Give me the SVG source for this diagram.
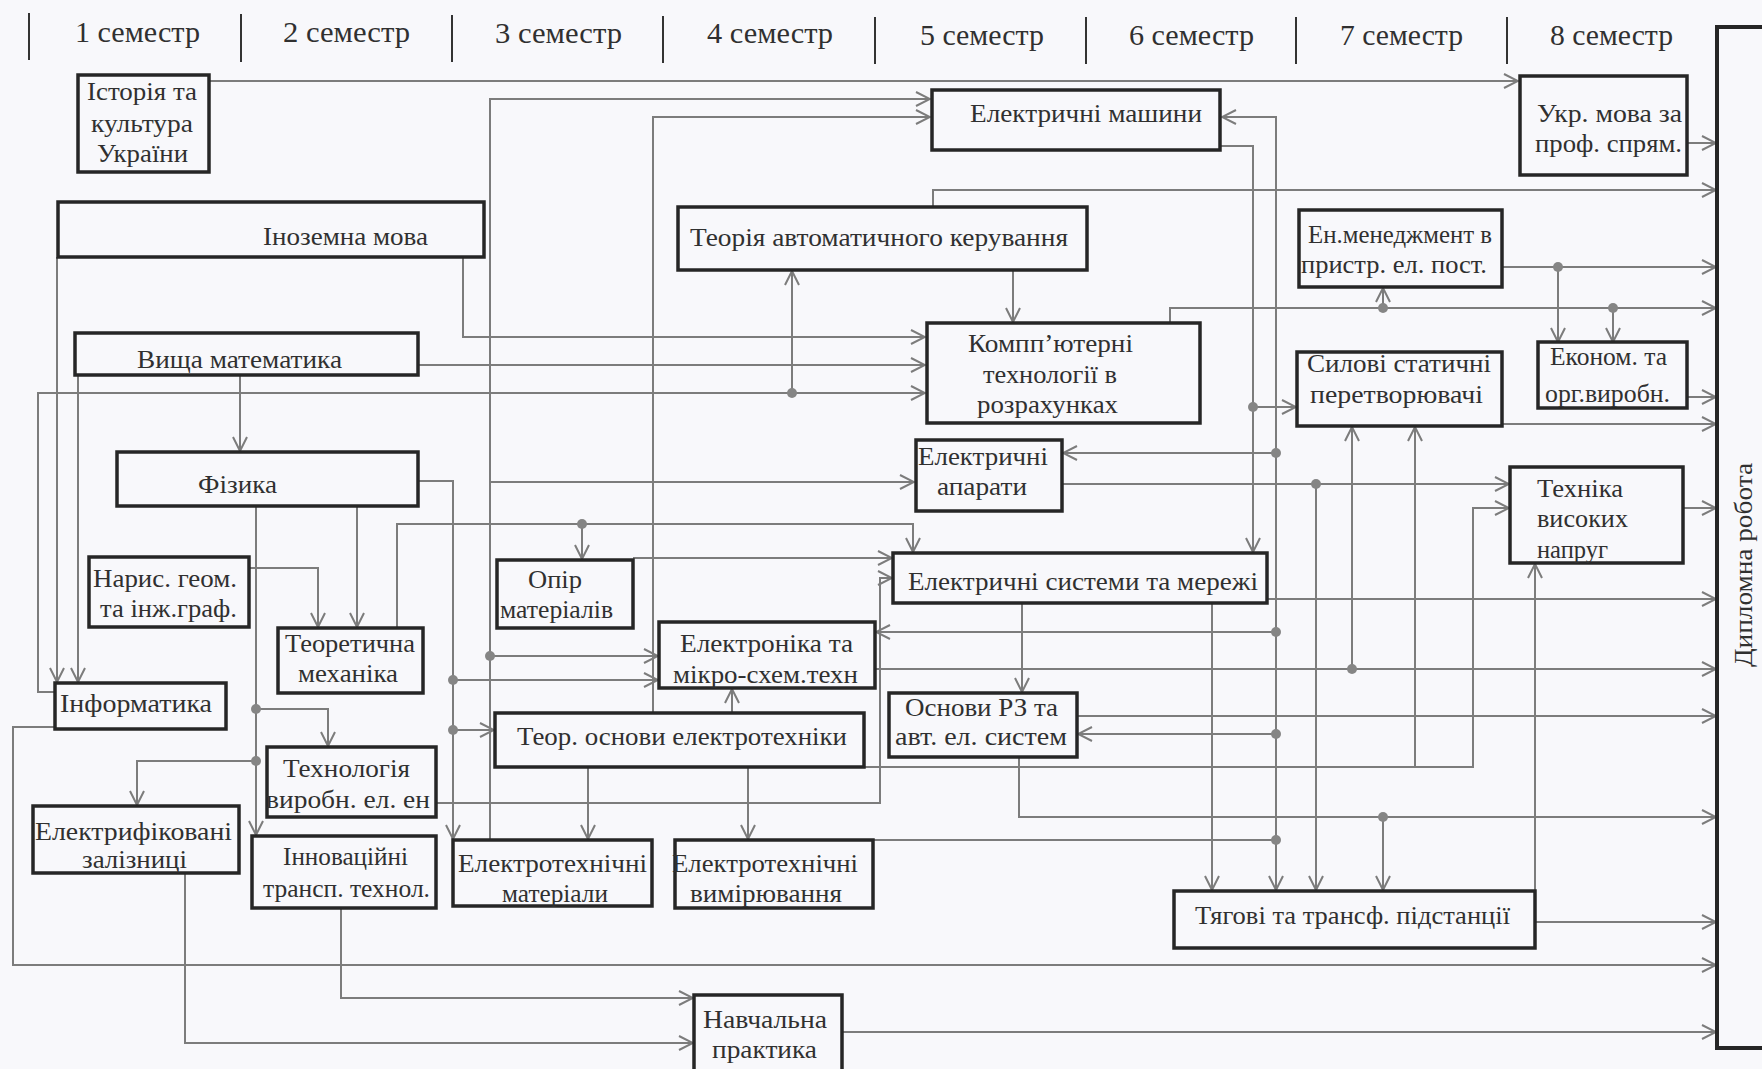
<svg xmlns="http://www.w3.org/2000/svg" width="1762" height="1069" viewBox="0 0 1762 1069" font-family="'Liberation Serif', 'Times New Roman', 'DejaVu Serif', serif">
<defs>
<marker id="a" viewBox="0 0 16 16" refX="15" refY="8" markerWidth="16" markerHeight="16" markerUnits="userSpaceOnUse" orient="auto">
<path d="M1,1 L15,8 L1,15" fill="none" stroke="#7c7c7c" stroke-width="2"/>
</marker>
<style>
.c{fill:none;stroke:#7c7c7c;stroke-width:2}
.ca{fill:none;stroke:#7c7c7c;stroke-width:2;marker-end:url(#a)}
.d{fill:#858585}
.b{fill:#f8f8fb;stroke:#262626;stroke-width:3.5}
.t{font-size:26px;fill:#303030}
.s{font-size:29px;fill:#303030}
.v{stroke:#333;stroke-width:2}
</style>
</defs>
<rect width="1762" height="1069" fill="#f8f8fb"/>
<g id="header" font-family="'Liberation Serif', 'Times New Roman', serif">
<line class="v" x1="29" y1="13" x2="29" y2="60"/>
<line class="v" x1="241" y1="14" x2="241" y2="62"/>
<line class="v" x1="452" y1="15" x2="452" y2="62"/>
<line class="v" x1="663" y1="16" x2="663" y2="63"/>
<line class="v" x1="875" y1="17" x2="875" y2="64"/>
<line class="v" x1="1086" y1="17" x2="1086" y2="64"/>
<line class="v" x1="1296" y1="17" x2="1296" y2="64"/>
<line class="v" x1="1507" y1="17" x2="1507" y2="64"/>
<text class="s" x="75" y="42" textLength="125" lengthAdjust="spacingAndGlyphs">1 семестр</text>
<text class="s" x="283" y="42" textLength="127" lengthAdjust="spacingAndGlyphs">2 семестр</text>
<text class="s" x="495" y="43" textLength="127" lengthAdjust="spacingAndGlyphs">3 семестр</text>
<text class="s" x="707" y="43" textLength="126" lengthAdjust="spacingAndGlyphs">4 семестр</text>
<text class="s" x="920" y="45" textLength="124" lengthAdjust="spacingAndGlyphs">5 семестр</text>
<text class="s" x="1129" y="45" textLength="125" lengthAdjust="spacingAndGlyphs">6 семестр</text>
<text class="s" x="1340" y="45" textLength="123" lengthAdjust="spacingAndGlyphs">7 семестр</text>
<text class="s" x="1550" y="45" textLength="123" lengthAdjust="spacingAndGlyphs">8 семестр</text>
</g>
<g id="connectors">
<path class="ca" d="M209,81 H1518"/>
<path class="ca" d="M1687,143 H1716"/>
<path class="ca" d="M933,207 V190 H1716"/>
<path class="ca" d="M1502,267 H1716"/>
<path class="ca" d="M1558,267 V342"/>
<path class="ca" d="M1170,323 V308 H1716"/>
<path class="ca" d="M1383,308 V288"/>
<path class="ca" d="M1613,308 V342"/>
<path class="ca" d="M1687,397 H1716"/>
<path class="ca" d="M1502,424 H1716"/>
<path class="ca" d="M1683,508 H1716"/>
<path class="ca" d="M1267,599 H1716"/>
<path class="ca" d="M875,669 H1716"/>
<path class="ca" d="M1352,669 V427"/>
<path class="ca" d="M1077,716 H1716"/>
<path class="ca" d="M1019,757 V817 H1716"/>
<path class="ca" d="M1383,817 V890"/>
<path class="ca" d="M1535,922 H1716"/>
<path class="ca" d="M55,727 H13 V965 H1716"/>
<path class="ca" d="M842,1032 H1716"/>
<path class="ca" d="M490,840 V99 H930"/>
<path class="ca" d="M490,656 H658"/>
<path class="ca" d="M490,482 H914"/>
<path class="ca" d="M653,713 V117 H930"/>
<path class="ca" d="M463,257 V337 H925"/>
<path class="ca" d="M57,257 V682"/>
<path class="ca" d="M78,375 V682"/>
<path class="ca" d="M240,375 V451"/>
<path class="ca" d="M418,365 H925"/>
<path class="ca" d="M55,692 H38 V393 H925"/>
<path class="ca" d="M792,393 V271"/>
<path class="ca" d="M1013,270 V322"/>
<path class="ca" d="M418,481 H453 V839"/>
<path class="ca" d="M453,680 H658"/>
<path class="ca" d="M453,730 H494"/>
<path class="ca" d="M256,506 V835"/>
<path class="ca" d="M256,709 H328 V746"/>
<path class="ca" d="M256,761 H137 V805"/>
<path class="ca" d="M357,506 V627"/>
<path class="ca" d="M249,568 H318 V627"/>
<path class="ca" d="M397,628 V524 H913 V552"/>
<path class="ca" d="M582,524 V559"/>
<path class="ca" d="M633,558 H892"/>
<path class="ca" d="M436,803 H880 V578 H892"/>
<path class="ca" d="M1220,146 H1253 V552"/>
<path class="ca" d="M1253,407 H1296"/>
<path class="c" d="M873,840 H1276"/>
<path class="ca" d="M1276,840 V117 H1222"/>
<path class="ca" d="M1276,840 V890"/>
<path class="ca" d="M1276,453 H1063"/>
<path class="ca" d="M1276,632 H876"/>
<path class="ca" d="M1276,734 H1078"/>
<path class="ca" d="M1062,484 H1509"/>
<path class="ca" d="M1316,484 V890"/>
<path class="ca" d="M1022,603 V692"/>
<path class="ca" d="M1212,603 V890"/>
<path class="ca" d="M864,767 H1473 V508 H1509"/>
<path class="ca" d="M1415,767 V427"/>
<path class="ca" d="M1535,891 V564"/>
<path class="ca" d="M732,713 V689"/>
<path class="ca" d="M588,767 V839"/>
<path class="ca" d="M748,767 V839"/>
<path class="ca" d="M341,908 V998 H693"/>
<path class="ca" d="M185,873 V1043 H693"/>
<circle class="d" cx="1558" cy="267" r="5"/>
<circle class="d" cx="1383" cy="308" r="5"/>
<circle class="d" cx="1613" cy="308" r="5"/>
<circle class="d" cx="1352" cy="669" r="5"/>
<circle class="d" cx="1383" cy="817" r="5"/>
<circle class="d" cx="490" cy="656" r="5"/>
<circle class="d" cx="792" cy="393" r="5"/>
<circle class="d" cx="453" cy="680" r="5"/>
<circle class="d" cx="453" cy="730" r="5"/>
<circle class="d" cx="256" cy="709" r="5"/>
<circle class="d" cx="256" cy="761" r="5"/>
<circle class="d" cx="582" cy="524" r="5"/>
<circle class="d" cx="1253" cy="407" r="5"/>
<circle class="d" cx="1276" cy="840" r="5"/>
<circle class="d" cx="1276" cy="453" r="5"/>
<circle class="d" cx="1276" cy="632" r="5"/>
<circle class="d" cx="1276" cy="734" r="5"/>
<circle class="d" cx="1316" cy="484" r="5"/>
</g>
<g id="nodes" font-family="'Liberation Serif', 'Times New Roman', serif">
<g id="n-istoriia"><rect class="b" x="78" y="75" width="131" height="97"/>
<text class="t" x="87" y="100" textLength="110" lengthAdjust="spacingAndGlyphs">Історія та</text>
<text class="t" x="91" y="132" textLength="102" lengthAdjust="spacingAndGlyphs">культура</text>
<text class="t" x="97" y="162" textLength="91" lengthAdjust="spacingAndGlyphs">України</text></g>
<g id="n-inozemna"><rect class="b" x="58" y="202" width="426" height="55"/>
<text class="t" x="263" y="245" textLength="165" lengthAdjust="spacingAndGlyphs">Іноземна мова</text></g>
<g id="n-vyshcha"><rect class="b" x="75" y="333" width="343" height="42"/>
<text class="t" x="137" y="368" textLength="205" lengthAdjust="spacingAndGlyphs">Вища математика</text></g>
<g id="n-fizyka"><rect class="b" x="117" y="452" width="301" height="54"/>
<text class="t" x="198" y="493" textLength="79" lengthAdjust="spacingAndGlyphs">Фізика</text></g>
<g id="n-narys"><rect class="b" x="89" y="557" width="160" height="70"/>
<text class="t" x="93" y="587" textLength="144" lengthAdjust="spacingAndGlyphs">Нарис. геом.</text>
<text class="t" x="100" y="617" textLength="137" lengthAdjust="spacingAndGlyphs">та інж.граф.</text></g>
<g id="n-teormekh"><rect class="b" x="278" y="628" width="145" height="65"/>
<text class="t" x="285" y="652" textLength="130" lengthAdjust="spacingAndGlyphs">Теоретична</text>
<text class="t" x="298" y="682" textLength="100" lengthAdjust="spacingAndGlyphs">механіка</text></g>
<g id="n-informatyka"><rect class="b" x="55" y="683" width="171" height="46"/>
<text class="t" x="60" y="712" textLength="152" lengthAdjust="spacingAndGlyphs">Інформатика</text></g>
<g id="n-tekhnolohiia"><rect class="b" x="267" y="747" width="169" height="70"/>
<text class="t" x="283" y="777" textLength="127" lengthAdjust="spacingAndGlyphs">Технологія</text>
<text class="t" x="266" y="808" textLength="164" lengthAdjust="spacingAndGlyphs">виробн. ел. ен</text></g>
<g id="n-elektryf"><rect class="b" x="33" y="806" width="206" height="67"/>
<text class="t" x="35" y="840" textLength="197" lengthAdjust="spacingAndGlyphs">Електрифіковані</text>
<text class="t" x="82" y="868" textLength="105" lengthAdjust="spacingAndGlyphs">залізниці</text></g>
<g id="n-innov"><rect class="b" x="252" y="836" width="184" height="72"/>
<text class="t" x="283" y="865" textLength="125" lengthAdjust="spacingAndGlyphs">Інноваційні</text>
<text class="t" x="263" y="897" textLength="167" lengthAdjust="spacingAndGlyphs">трансп. технол.</text></g>
<g id="n-toe"><rect class="b" x="495" y="713" width="369" height="54"/>
<text class="t" x="517" y="745" textLength="330" lengthAdjust="spacingAndGlyphs">Теор. основи електротехніки</text></g>
<g id="n-elmat"><rect class="b" x="453" y="840" width="199" height="66"/>
<text class="t" x="458" y="872" textLength="189" lengthAdjust="spacingAndGlyphs">Електротехнічні</text>
<text class="t" x="502" y="902" textLength="106" lengthAdjust="spacingAndGlyphs">матеріали</text></g>
<g id="n-elvym"><rect class="b" x="675" y="840" width="198" height="68"/>
<text class="t" x="672" y="872" textLength="186" lengthAdjust="spacingAndGlyphs">Електротехнічні</text>
<text class="t" x="690" y="902" textLength="152" lengthAdjust="spacingAndGlyphs">вимірювання</text></g>
<g id="n-navch"><rect class="b" x="694" y="995" width="148" height="85"/>
<text class="t" x="703" y="1028" textLength="124" lengthAdjust="spacingAndGlyphs">Навчальна</text>
<text class="t" x="712" y="1058" textLength="105" lengthAdjust="spacingAndGlyphs">практика</text></g>
<g id="n-opir"><rect class="b" x="497" y="560" width="136" height="68"/>
<text class="t" x="528" y="588" textLength="54" lengthAdjust="spacingAndGlyphs">Опір</text>
<text class="t" x="500" y="618" textLength="113" lengthAdjust="spacingAndGlyphs">матеріалів</text></g>
<g id="n-elektronika"><rect class="b" x="659" y="622" width="216" height="66"/>
<text class="t" x="680" y="652" textLength="173" lengthAdjust="spacingAndGlyphs">Електроніка та</text>
<text class="t" x="673" y="683" textLength="185" lengthAdjust="spacingAndGlyphs">мікро-схем.техн</text></g>
<g id="n-tak"><rect class="b" x="678" y="207" width="409" height="63"/>
<text class="t" x="690" y="246" textLength="378" lengthAdjust="spacingAndGlyphs">Теорія автоматичного керування</text></g>
<g id="n-elmash"><rect class="b" x="932" y="90" width="288" height="60"/>
<text class="t" x="970" y="122" textLength="232" lengthAdjust="spacingAndGlyphs">Електричні машини</text></g>
<g id="n-komp"><rect class="b" x="927" y="323" width="273" height="100"/>
<text class="t" x="968" y="352" textLength="165" lengthAdjust="spacingAndGlyphs">Компп’ютерні</text>
<text class="t" x="983" y="383" textLength="134" lengthAdjust="spacingAndGlyphs">технології в</text>
<text class="t" x="977" y="413" textLength="141" lengthAdjust="spacingAndGlyphs">розрахунках</text></g>
<g id="n-elapar"><rect class="b" x="916" y="440" width="146" height="71"/>
<text class="t" x="918" y="465" textLength="130" lengthAdjust="spacingAndGlyphs">Електричні</text>
<text class="t" x="937" y="495" textLength="90" lengthAdjust="spacingAndGlyphs">апарати</text></g>
<g id="n-elsyst"><rect class="b" x="893" y="553" width="374" height="50"/>
<text class="t" x="908" y="590" textLength="350" lengthAdjust="spacingAndGlyphs">Електричні системи та мережі</text></g>
<g id="n-rz"><rect class="b" x="889" y="693" width="188" height="64"/>
<text class="t" x="905" y="716" textLength="153" lengthAdjust="spacingAndGlyphs">Основи РЗ та</text>
<text class="t" x="895" y="745" textLength="172" lengthAdjust="spacingAndGlyphs">авт. ел. систем</text></g>
<g id="n-tiahovi"><rect class="b" x="1174" y="891" width="361" height="57"/>
<text class="t" x="1195" y="924" textLength="315" lengthAdjust="spacingAndGlyphs">Тягові та трансф. підстанції</text></g>
<g id="n-enmen"><rect class="b" x="1299" y="210" width="203" height="77"/>
<text class="t" x="1308" y="243" textLength="184" lengthAdjust="spacingAndGlyphs">Ен.менеджмент в</text>
<text class="t" x="1301" y="273" textLength="186" lengthAdjust="spacingAndGlyphs">пристр. ел. пост.</text></g>
<g id="n-ukr"><rect class="b" x="1520" y="76" width="167" height="99"/>
<text class="t" x="1537" y="122" textLength="145" lengthAdjust="spacingAndGlyphs">Укр. мова за</text>
<text class="t" x="1535" y="152" textLength="147" lengthAdjust="spacingAndGlyphs">проф. спрям.</text></g>
<g id="n-sylovi"><rect class="b" x="1297" y="352" width="205" height="74"/>
<text class="t" x="1307" y="372" textLength="184" lengthAdjust="spacingAndGlyphs">Силові статичні</text>
<text class="t" x="1310" y="403" textLength="173" lengthAdjust="spacingAndGlyphs">перетворювачі</text></g>
<g id="n-ekonom"><rect class="b" x="1538" y="342" width="149" height="66"/>
<text class="t" x="1550" y="365" textLength="117" lengthAdjust="spacingAndGlyphs">Економ. та</text>
<text class="t" x="1545" y="402" textLength="125" lengthAdjust="spacingAndGlyphs">орг.виробн.</text></g>
<g id="n-tvn"><rect class="b" x="1510" y="467" width="173" height="96"/>
<text class="t" x="1537" y="497" textLength="86" lengthAdjust="spacingAndGlyphs">Техніка</text>
<text class="t" x="1537" y="527" textLength="91" lengthAdjust="spacingAndGlyphs">високих</text>
<text class="t" x="1537" y="558" textLength="71" lengthAdjust="spacingAndGlyphs">напруг</text></g>
<g id="n-dyplom"><rect x="1717" y="27" width="90" height="1021" fill="none" stroke="#262626" stroke-width="4"/>
<text class="t" x="1752" y="565" text-anchor="middle" transform="rotate(-90 1752 565)" textLength="204" lengthAdjust="spacingAndGlyphs">Дипломна робота</text></g>
</g>
</svg>
